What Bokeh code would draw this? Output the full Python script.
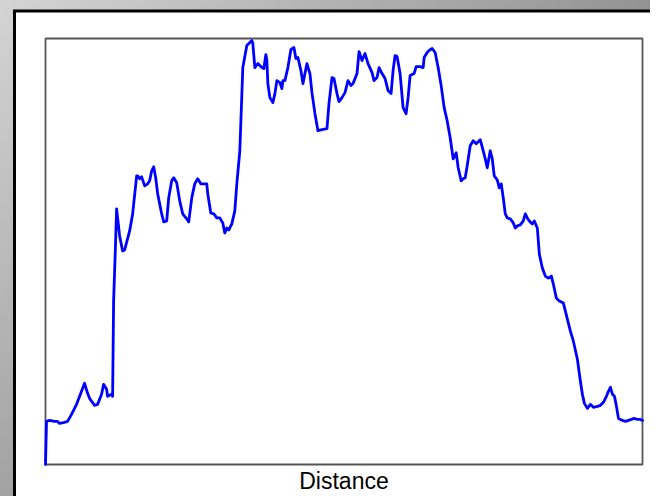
from bokeh.plotting import figure
from bokeh.models import FixedTicker
from bokeh.embed import file_html
from bokeh.resources import INLINE

# page-pixel traced profile -> distance / elevation units
px = [46, 47, 50, 55, 58, 60, 65, 68, 72, 77, 82, 85, 88, 90, 95, 98, 102, 104, 107, 108, 110, 112, 113,
      114, 116, 117, 120, 123, 125, 130, 133, 137, 138, 140, 142, 145, 148, 150, 152, 154, 156, 158, 162,
      164, 167, 169, 172, 174, 177, 180, 183, 187, 189, 192, 195, 198, 201, 203, 207, 208, 211, 214, 217,
      220, 223, 225, 227, 229, 232, 235, 237, 240, 243, 247, 249, 252, 253, 255, 258, 262, 264, 266, 267,
      268, 270, 273, 275, 277, 280, 282, 283, 285, 288, 291, 294, 296, 298, 301, 303, 307, 310, 312, 315,
      318, 322, 327, 329, 332, 334, 337, 339, 342, 345, 348, 351, 353, 357, 359, 362, 365, 368, 372, 374,
      377, 379, 382, 385, 388, 391, 393, 395, 397, 400, 403, 406, 408, 410, 414, 416, 420, 423, 424, 427,
      429, 432, 435, 438, 441, 444, 447, 450, 453, 456, 458, 461, 463, 465, 467, 470, 473, 476, 480, 483,
      485, 487, 490, 492, 494, 497, 499, 501, 503, 505, 507, 510, 513, 515, 517, 520, 523, 525, 527, 529,
      532, 534, 537, 539, 542, 545, 548, 551, 553, 556, 559, 563, 565, 567, 570, 573, 577, 580, 582, 584,
      587, 590, 593, 597, 600, 603, 606, 608, 610, 612, 614, 616, 618, 622, 625, 628, 631, 633, 637, 640, 642]
py = [463, 420, 419, 420, 420, 422, 421, 420, 413, 403, 390, 382, 392, 397, 404, 403, 393, 383, 388, 395, 394, 393, 395,
      300, 240, 208, 235, 250, 249, 230, 213, 175, 175, 178, 176, 185, 183, 180, 170, 166, 177, 193, 213,
      221, 220, 197, 180, 177, 182, 200, 213, 218, 221, 197, 183, 178, 183, 183, 183, 193, 212, 213, 217,
      217, 222, 232, 227, 229, 223, 210, 183, 150, 67, 45, 43, 40, 43, 67, 63, 67, 68, 54, 60,
      83, 97, 102, 93, 80, 82, 88, 80, 80, 67, 49, 47, 58, 57, 70, 83, 63, 73, 92, 113,
      130, 129, 128, 103, 77, 78, 93, 101, 97, 92, 80, 85, 83, 73, 51, 60, 53, 63, 72, 80,
      77, 67, 73, 78, 90, 93, 70, 55, 56, 73, 107, 113, 97, 75, 73, 66, 66, 67, 57, 52,
      50, 48, 52, 67, 85, 107, 120, 137, 158, 152, 167, 180, 178, 177, 165, 145, 140, 143, 139, 150,
      158, 167, 150, 158, 175, 179, 187, 183, 197, 213, 217, 218, 222, 227, 225, 224, 220, 213, 217, 220,
      223, 220, 227, 253, 267, 275, 277, 275, 283, 297, 300, 302, 310, 318, 330, 340, 358, 380, 393, 402,
      407, 403, 406, 405, 404, 401, 395, 390, 386, 393, 395, 405, 417, 419, 420, 419, 418, 417, 418, 418, 419]

distance = [x - 46 for x in px]
elevation = [463 - y for y in py]

W, H = 650, 496
L, T, R, B = 45, 38, 642, 464          # frame edges in canvas pixels
XMAX, YMAX = 596, 425

p = figure(width=W, height=H, x_range=(0, XMAX), y_range=(0, YMAX),
           output_backend="svg", toolbar_location=None,
           min_border_left=L, min_border_right=W - R, min_border_top=T, min_border_bottom=H - B,
           border_fill_color=None, background_fill_color=None, outline_line_color=None,
           styles={"background": "linear-gradient(135deg, #d4d4d4 0%, #9b9b9b 50%, #626262 100%)"})

# canvas pixel -> data helpers for the decorative panel
def dx(c):
    return (c - L) * XMAX / (R - L)

def dy(c):
    return (B - c) * YMAX / (B - T)

p.quad(left=[dx(12.5)], right=[dx(2000)], top=[dy(9)], bottom=[dy(2000)],
       fill_color="black", line_color=None, level="annotation")
p.quad(left=[dx(15.5)], right=[dx(2000)], top=[dy(12)], bottom=[dy(2000)],
       fill_color="white", line_color=None, level="annotation")

# frame outline drawn on the range bounds
p.quad(left=[0], right=[XMAX], top=[YMAX], bottom=[0],
       fill_color=None, line_color="#555555", line_width=1.8, level="overlay")

p.line(distance, elevation, line_color="#0000ff", line_width=2.8,
       line_join="round", line_cap="round", level="overlay")

p.xgrid.visible = False
p.ygrid.visible = False
p.yaxis.visible = False
ax = p.xaxis[0]
ax.level = "overlay"
ax.ticker = FixedTicker(ticks=[])
ax.axis_line_color = None
ax.major_tick_line_color = None
ax.minor_tick_line_color = None
ax.major_tick_out = 0
ax.major_label_standoff = 0
ax.axis_label = "Distance"
ax.axis_label_text_font = "Liberation Sans"
ax.axis_label_text_font_size = "23px"
ax.axis_label_text_font_style = "normal"
ax.axis_label_text_color = "black"
ax.axis_label_standoff = 3

open("out.html", "w").write(file_html(p, INLINE))
